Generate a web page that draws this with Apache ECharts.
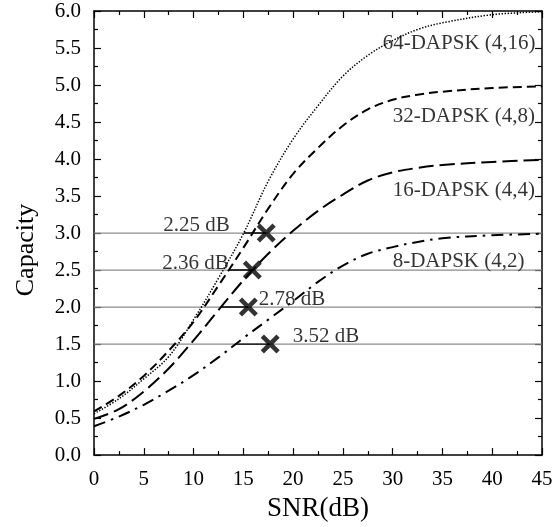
<!DOCTYPE html>
<html>
<head>
<meta charset="utf-8">
<script src="https://cdn.jsdelivr.net/npm/echarts@6/dist/echarts.min.js"></script>
<style>
  html, body { margin: 0; padding: 0; background: #fff; }
  #chart { width: 560px; height: 527px; }
</style>
</head>
<body>
<div id="chart"></div>
<script>
// SNR grid (dB) shared by all capacity curves
const snr = [0, 2.5, 5, 7.5, 10, 12.5, 15, 17.5, 20, 22.5, 25, 27.5, 30, 32.5, 35, 40, 45];

// Capacity (bits/symbol) of each DAPSK constellation
const cap64 = [0.56, 0.76, 1.03, 1.33, 1.83, 2.39, 2.99, 3.70, 4.27, 4.72, 5.12, 5.40, 5.60, 5.75, 5.84, 5.95, 5.99];
const cap32 = [0.59, 0.80, 1.07, 1.41, 1.80, 2.29, 2.80, 3.33, 3.80, 4.15, 4.45, 4.67, 4.80, 4.87, 4.91, 4.96, 4.98];
const cap16 = [0.49, 0.62, 0.86, 1.17, 1.55, 1.96, 2.36, 2.72, 3.03, 3.30, 3.52, 3.71, 3.82, 3.88, 3.92, 3.96, 3.99];
const cap8  = [0.39, 0.52, 0.68, 0.87, 1.08, 1.32, 1.58, 1.83, 2.08, 2.34, 2.56, 2.72, 2.81, 2.88, 2.93, 2.97, 2.99];

const curveNames = ['64-DAPSK (4,16)', '32-DAPSK (4,8)', '16-DAPSK (4,4)', '8-DAPSK (4,2)'];

// Operating points (x marks) and their gap to the capacity curve
const markerSnr = [17.3, 15.9, 15.5, 17.7];
const markerCap = [3.0, 2.5, 2.0, 1.5];
const gapDb = [2.25, 2.36, 2.78, 3.52];

// Curve name label anchors (data coordinates)
const nameLabelSnr = [29.0, 30.0, 30.0, 30.0];
const nameLabelCap = [5.56, 4.575, 3.57, 2.61];

const xTicks = { min: 0, max: 45, interval: 5 };
const yTicks = { min: 0, max: 6, interval: 0.5 };

const FONT = '"Liberation Serif", "Times New Roman", serif';
const INK = '#000';

function pairs(xs, ys) { return xs.map((x, i) => [x, ys[i]]); }

const curveStyles = [
  { type: [1.4, 1.6], width: 1.5 },
  { type: [9, 5], width: 2 },
  { type: [15, 6], width: 2 },
  { type: [12, 6, 2.5, 6], width: 2 }
];
const curveData = [cap64, cap32, cap16, cap8];

const series = [];

// Horizontal reference levels across the full SNR range
markerCap.forEach((c) => {
  series.push({
    type: 'line', silent: true, symbol: 'none', z: 1,
    data: [[xTicks.min, c], [xTicks.max, c]],
    lineStyle: { color: '#8c8c8c', width: 1.2 }
  });
});

// Gap segments: from the curve crossing to the operating point
markerCap.forEach((c, i) => {
  series.push({
    type: 'line', silent: true, symbol: 'none', z: 2,
    data: [[markerSnr[i] - gapDb[i], c], [markerSnr[i], c]],
    lineStyle: { color: '#000', width: 1.4 }
  });
});

// Capacity curves
curveData.forEach((d, i) => {
  series.push({
    name: curveNames[i], type: 'line', symbol: 'none', smooth: 0.35, z: 3,
    data: pairs(snr, d),
    lineStyle: { color: '#000', width: curveStyles[i].width, type: curveStyles[i].type, cap: 'butt' }
  });
});

// Operating point markers with gap labels
const gapLabelPlacement = [
  { position: 'left', distance: 27, offset: [0, -8] },
  { position: 'left', distance: 14, offset: [0, -7] },
  { position: 'right', distance: 1, offset: [0, -8] },
  { position: 'right', distance: 13, offset: [0, -8] }
];
series.push({
  type: 'scatter', z: 5,
  symbol: 'path://M3.4,0 L10,6.6 L16.6,0 L20,3.4 L13.4,10 L20,16.6 L16.6,20 L10,13.4 L3.4,20 L0,16.6 L6.6,10 L0,3.4 Z',
  symbolSize: 19,
  itemStyle: { color: '#000' },
  data: markerSnr.map((x, i) => ({
    value: [x, markerCap[i]],
    label: Object.assign({
      show: true,
      formatter: gapDb[i].toFixed(2) + ' dB',
      fontFamily: FONT, fontSize: 21, color: INK
    }, gapLabelPlacement[i])
  }))
});

// Curve name labels
series.push({
  type: 'scatter', z: 6, symbolSize: 0, silent: true,
  data: nameLabelSnr.map((x, i) => ({
    value: [x, nameLabelCap[i]],
    label: {
      show: true, position: 'right', distance: 0,
      formatter: curveNames[i],
      fontFamily: FONT, fontSize: 21, color: INK
    }
  }))
});

const axisLine = { show: true, onZero: false, lineStyle: { color: '#000', width: 1.5 } };
const axisTick = { show: true, inside: true, length: 7, lineStyle: { color: '#000', width: 1.2 } };
const minorTick = { show: true, splitNumber: 2, length: 4, lineStyle: { color: '#000', width: 1.2 } };

const chart = echarts.init(document.getElementById('chart'), null, { renderer: 'canvas' });
chart.setOption({
  animation: false,
  backgroundColor: '#fff',
  grid: { left: 94, top: 11, right: 18, bottom: 68, containLabel: false },
  xAxis: [
    {
      type: 'value', position: 'bottom', min: xTicks.min, max: xTicks.max, interval: xTicks.interval,
      axisLine, axisTick, minorTick, splitLine: { show: false },
      axisLabel: { fontFamily: FONT, fontSize: 21, color: INK, margin: 14 },
      name: 'SNR(dB)', nameLocation: 'middle', nameGap: 28,
      nameTextStyle: { fontFamily: FONT, fontSize: 27, color: INK }
    },
    {
      type: 'value', position: 'top', min: xTicks.min, max: xTicks.max, interval: xTicks.interval,
      axisLine, axisTick, minorTick, splitLine: { show: false }, axisLabel: { show: false }
    }
  ],
  yAxis: [
    {
      type: 'value', position: 'left', min: yTicks.min, max: yTicks.max, interval: yTicks.interval,
      axisLine, axisTick, minorTick, splitLine: { show: false },
      axisLabel: { fontFamily: FONT, fontSize: 21, color: INK, margin: 13, formatter: (v) => v.toFixed(1) },
      name: 'Capacity', nameLocation: 'middle', nameGap: 55,
      nameTextStyle: { fontFamily: FONT, fontSize: 26, color: INK, padding: [0, 34, 0, 0] }
    },
    {
      type: 'value', position: 'right', min: yTicks.min, max: yTicks.max, interval: yTicks.interval,
      axisLine, axisTick, minorTick, splitLine: { show: false }, axisLabel: { show: false }
    }
  ],
  series
});
</script>
</body>
</html>
